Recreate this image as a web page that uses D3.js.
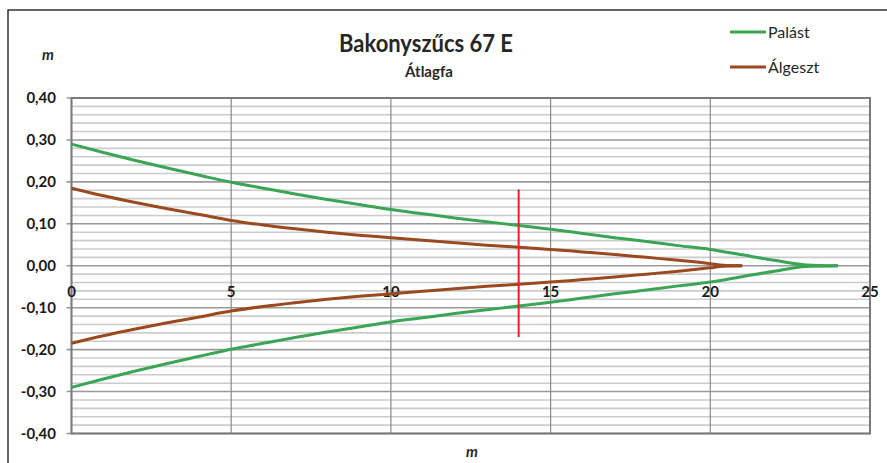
<!DOCTYPE html>
<html lang="hu">
<head>
  <meta charset="UTF-8" />
  <title>Bakonyszűcs 67 E</title>
  <script src="https://d3js.org/d3.v7.min.js"></script>
  <style>
    body { margin: 0; background: #fff; }
    svg { display: block; font-family: Lato, "Open Sans", sans-serif; }
    .tick-label { font-size: 15px; font-weight: bold; fill: #1a1a1a; }
  </style>
</head>
<body>
  <svg width="887" height="463"></svg>

  <script>
    // distance along the stem (m)
    const palastX = [0, 1, 2, 3, 4, 5, 6, 7, 8, 9, 10, 11, 12, 13, 14, 15, 16, 17, 18, 19, 20, 21, 22, 23, 24];
    // outer radius (m)
    const palastR = [0.290, 0.270, 0.251, 0.233, 0.216, 0.199, 0.185, 0.171, 0.158, 0.146, 0.134, 0.124, 0.114, 0.105, 0.096, 0.087, 0.077, 0.067, 0.058, 0.048, 0.039, 0.026, 0.013, 0.002, 0.000];

    const algesztX = [0, 1, 2, 3, 4, 5, 6, 7, 8, 9, 10, 11, 12, 13, 14, 15, 16, 17, 18, 19, 20, 20.4, 21];
    const algesztR = [0.185, 0.167, 0.151, 0.136, 0.122, 0.108, 0.097, 0.088, 0.080, 0.073, 0.067, 0.061, 0.055, 0.049, 0.044, 0.039, 0.033, 0.027, 0.020, 0.013, 0.005, 0.001, 0.000];

    const markerX = 14;
    const markerRange = [-0.17, 0.182];

    const xTicks = [0, 5, 10, 15, 20, 25];
    const yTicks = [0.4, 0.3, 0.2, 0.1, 0, -0.1, -0.2, -0.3, -0.4];

    const seriesNames = ["Palást", "Álgeszt"];
    const seriesColors = ["#3aa655", "#9a4a1e"];

    const svg = d3.select("svg");

    const x = d3.scaleLinear().domain([0, 25]).range([71.5, 870]);
    const y = d3.scaleLinear().domain([-0.4, 0.4]).range([433.5, 98]);

    // outer chart frame
    svg.append("rect")
      .attr("x", 8).attr("y", 10)
      .attr("width", 1000).attr("height", 1000)
      .attr("fill", "none")
      .attr("stroke", "#333")
      .attr("stroke-width", 1.5);

    // minor horizontal grid (0.02)
    const minor = d3.range(-40, 41, 2).map(d => d / 100).filter(d => Math.round(d * 100) % 10 !== 0);
    svg.append("g")
      .selectAll("line")
      .data(minor)
      .enter().append("line")
      .attr("x1", x(0)).attr("x2", x(25))
      .attr("y1", d => y(d)).attr("y2", d => y(d))
      .attr("stroke", "#cccccc")
      .attr("stroke-width", 1.6);

    // major horizontal grid
    svg.append("g")
      .selectAll("line")
      .data(yTicks)
      .enter().append("line")
      .attr("x1", x(0) - 5).attr("x2", x(25))
      .attr("y1", d => y(d)).attr("y2", d => y(d))
      .attr("stroke", "#9a9a9a")
      .attr("stroke-width", 1.6);

    // vertical grid
    svg.append("g")
      .selectAll("line")
      .data(xTicks)
      .enter().append("line")
      .attr("x1", d => x(d)).attr("x2", d => x(d))
      .attr("y1", y(0.4)).attr("y2", y(-0.4))
      .attr("stroke", "#8a8a8a")
      .attr("stroke-width", 1.2);

    // plot border
    svg.append("rect")
      .attr("x", x(0)).attr("y", y(0.4))
      .attr("width", x(25) - x(0)).attr("height", y(-0.4) - y(0.4))
      .attr("fill", "none")
      .attr("stroke", "#7a7a7a")
      .attr("stroke-width", 2);

    // y tick labels
    const fmt = d => d3.format(".2f")(d).replace(".", ",").replace("−", "-");
    svg.append("g")
      .selectAll("text")
      .data(yTicks)
      .enter().append("text")
      .attr("class", "tick-label")
      .attr("x", 56)
      .attr("y", d => y(d) + 5)
      .attr("text-anchor", "end")
      .text(fmt);

    // x tick labels (below the zero line)
    svg.append("g")
      .selectAll("text")
      .data(xTicks)
      .enter().append("text")
      .attr("class", "tick-label")
      .attr("x", d => x(d))
      .attr("y", y(0) + 31)
      .attr("text-anchor", "middle")
      .text(d => d);

    // series: upper and lower (mirrored) branches
    const line = d3.line().x(d => x(d[0])).y(d => y(d[1])).curve(d3.curveMonotoneX);
    const series = [
      { xs: palastX, rs: palastR, color: seriesColors[0] },
      { xs: algesztX, rs: algesztR, color: seriesColors[1] }
    ];
    series.forEach(s => {
      const upper = s.xs.map((v, i) => [v, s.rs[i]]);
      const lower = s.xs.map((v, i) => [v, -s.rs[i]]);
      [upper, lower].forEach(pts => {
        svg.append("path")
          .datum(pts)
          .attr("d", line)
          .attr("fill", "none")
          .attr("stroke", s.color)
          .attr("stroke-width", 3)
          .attr("stroke-linejoin", "round");
      });
    });

    // red marker
    svg.append("line")
      .attr("x1", x(markerX)).attr("x2", x(markerX))
      .attr("y1", y(markerRange[1])).attr("y2", y(markerRange[0]))
      .attr("stroke", "#e8202a")
      .attr("stroke-width", 2);

    // titles
    svg.append("text")
      .attr("x", 426).attr("y", 52)
      .attr("text-anchor", "middle")
      .attr("font-size", 24).attr("font-weight", "bold")
      .attr("fill", "#262626")
      .attr("textLength", 174).attr("lengthAdjust", "spacingAndGlyphs")
      .text("Bakonyszűcs 67 E");
    svg.append("text")
      .attr("x", 429).attr("y", 77)
      .attr("text-anchor", "middle")
      .attr("font-size", 15).attr("font-weight", "bold")
      .attr("fill", "#262626")
      .text("Átlagfa");

    // axis labels
    svg.append("text")
      .attr("x", 48).attr("y", 60)
      .attr("text-anchor", "middle")
      .attr("font-size", 15).attr("font-weight", "bold").attr("font-style", "italic")
      .attr("fill", "#262626")
      .text("m");
    svg.append("text")
      .attr("x", 472).attr("y", 457)
      .attr("text-anchor", "middle")
      .attr("font-size", 15).attr("font-weight", "bold").attr("font-style", "italic")
      .attr("fill", "#262626")
      .text("m");

    // legend
    const legend = svg.append("g");
    seriesNames.forEach((name, i) => {
      const ly = 32 + i * 35;
      legend.append("line")
        .attr("x1", 730).attr("x2", 766)
        .attr("y1", ly).attr("y2", ly)
        .attr("stroke", seriesColors[i])
        .attr("stroke-width", 3);
      legend.append("text")
        .attr("x", 768).attr("y", ly + 6)
        .attr("font-size", 16)
        .attr("fill", "#262626")
        .text(name);
    });
  </script>
</body>
</html>
